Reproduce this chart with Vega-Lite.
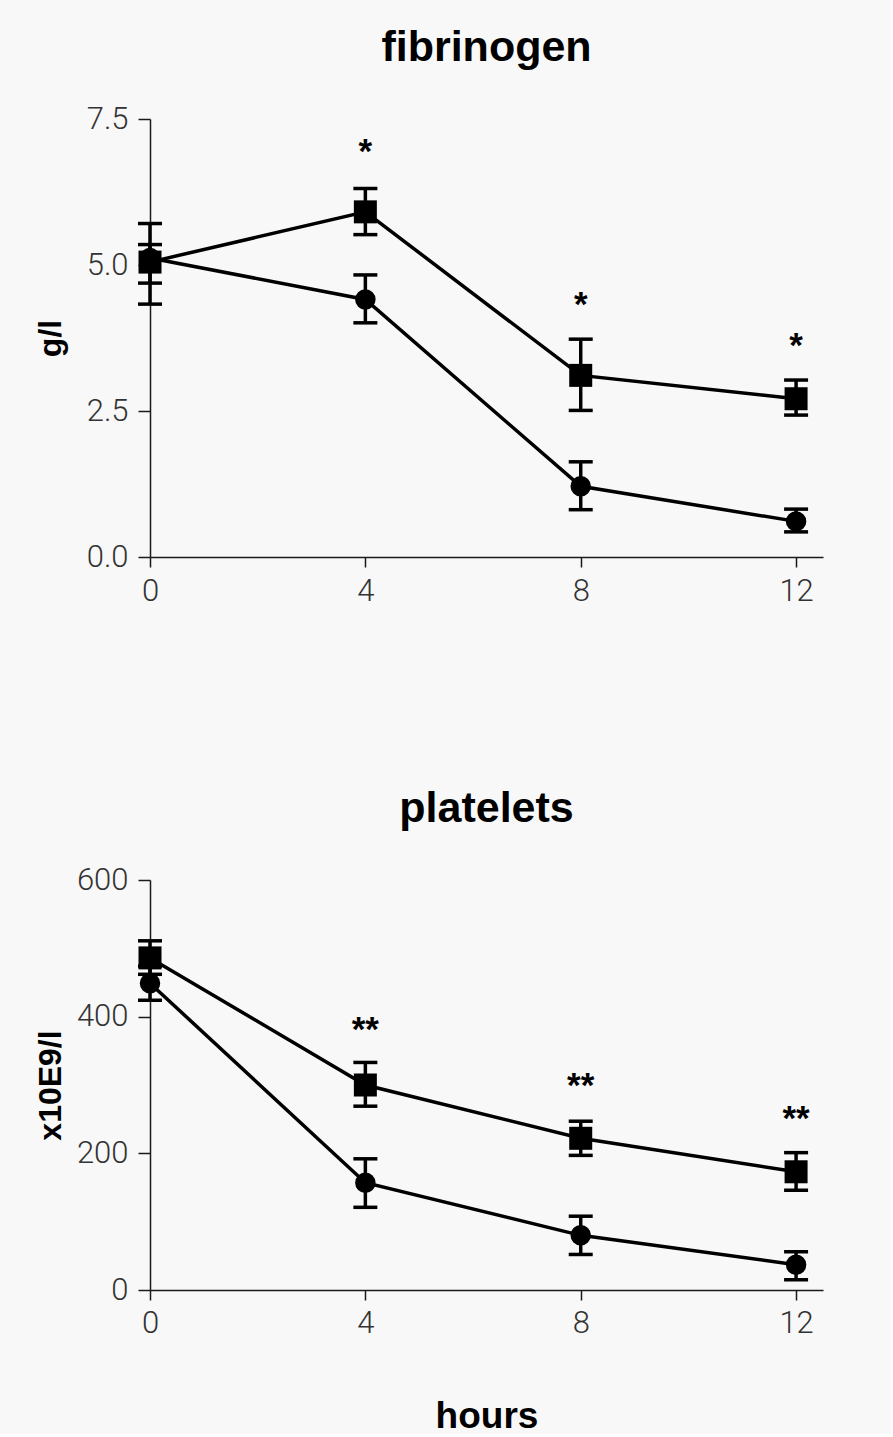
{
  "$schema": "https://vega.github.io/schema/vega-lite/v6.json",
  "background": "#f8f8f8",
  "padding": {"left": 34, "top": 27, "right": 68, "bottom": 0},
  "spacing": 182,
  "config": {
    "view": {"stroke": null},
    "axis": {
      "grid": false,
      "domainColor": "#1a1a1a",
      "domainWidth": 1.5,
      "tickColor": "#1a1a1a",
      "tickWidth": 1.5,
      "labelFont": "Roboto",
      "labelFontWeight": 300,
      "labelFontSize": 31,
      "labelColor": "#333333",
      "labelFlush": false,
      "titleFont": "Liberation Sans",
      "titleFontWeight": "bold",
      "titleColor": "#000000"
    },
    "title": {
      "font": "Liberation Sans",
      "fontWeight": "bold",
      "fontSize": 43,
      "color": "#000000",
      "frame": "group",
      "anchor": "middle",
      "baseline": "alphabetic",
      "offset": 33
    }
  },
  "datasets": {
    "fib": [
      {"group": "g1", "hours": 0, "mean": 5.05, "lo": 4.69, "hi": 5.35},
      {"group": "g1", "hours": 4, "mean": 5.91, "lo": 5.52, "hi": 6.31},
      {"group": "g1", "hours": 8, "mean": 3.11, "lo": 2.51, "hi": 3.73},
      {"group": "g1", "hours": 12, "mean": 2.71, "lo": 2.43, "hi": 3.03},
      {"group": "g2", "hours": 0, "mean": 5.12, "lo": 4.33, "hi": 5.71},
      {"group": "g2", "hours": 4, "mean": 4.41, "lo": 4.01, "hi": 4.83},
      {"group": "g2", "hours": 8, "mean": 1.21, "lo": 0.81, "hi": 1.63},
      {"group": "g2", "hours": 12, "mean": 0.61, "lo": 0.43, "hi": 0.82}
    ],
    "plt": [
      {"group": "g1", "hours": 0, "mean": 486, "lo": 462, "hi": 511},
      {"group": "g1", "hours": 4, "mean": 300, "lo": 269, "hi": 333},
      {"group": "g1", "hours": 8, "mean": 222, "lo": 197, "hi": 247},
      {"group": "g1", "hours": 12, "mean": 173, "lo": 146, "hi": 201},
      {"group": "g2", "hours": 0, "mean": 449, "lo": 424, "hi": 474},
      {"group": "g2", "hours": 4, "mean": 157, "lo": 121, "hi": 192},
      {"group": "g2", "hours": 8, "mean": 80, "lo": 52, "hi": 108},
      {"group": "g2", "hours": 12, "mean": 37, "lo": 15, "hi": 56}
    ],
    "fibstars": [
      {"hours": 4, "y": 7.03, "label": "*"},
      {"hours": 8, "y": 4.41, "label": "*"},
      {"hours": 12, "y": 3.72, "label": "*"}
    ],
    "pltstars": [
      {"hours": 4, "y": 390, "label": "**"},
      {"hours": 8, "y": 307, "label": "**"},
      {"hours": 12, "y": 259, "label": "**"}
    ]
  },
  "vconcat": [
    {
      "width": 673,
      "height": 438,
      "title": {"text": "fibrinogen"},
      "encoding": {
        "x": {"field": "hours", "type": "quantitative", "scale": {"domain": [0, 12.5], "nice": false, "zero": false},
              "axis": {"values": [0, 4, 8, 12], "title": null, "tickSize": 10, "labelPadding": 9, "format": "d"}}
      },
      "layer": [
        {
          "data": {"name": "fib"},
          "mark": {"type": "rule", "color": "#000000", "strokeWidth": 3.5},
          "encoding": {
            "y": {"field": "lo", "type": "quantitative", "scale": {"domain": [0, 7.5], "nice": false},
                  "axis": {"values": [0, 2.5, 5, 7.5], "format": ".1f", "title": "g/l", "titleFontSize": 32, "tickSize": 12, "labelPadding": 10, "minExtent": 72, "maxExtent": 72, "titlePadding": 11}},
            "y2": {"field": "hi"},
            "detail": {"field": "group"}
          }
        },
        {
          "data": {"name": "fib"},
          "mark": {"type": "tick", "orient": "horizontal", "color": "#000000", "size": 24, "thickness": 3.5, "opacity": 1},
          "encoding": {"y": {"field": "lo", "type": "quantitative"}}
        },
        {
          "data": {"name": "fib"},
          "mark": {"type": "tick", "orient": "horizontal", "color": "#000000", "size": 24, "thickness": 3.5, "opacity": 1},
          "encoding": {"y": {"field": "hi", "type": "quantitative"}}
        },
        {
          "data": {"name": "fib"},
          "mark": {"type": "line", "color": "#000000", "strokeWidth": 3.5},
          "encoding": {"y": {"field": "mean", "type": "quantitative"}, "detail": {"field": "group"}}
        },
        {
          "data": {"name": "fib"},
          "mark": {"type": "point", "filled": true, "color": "#000000", "opacity": 1},
          "encoding": {
            "y": {"field": "mean", "type": "quantitative"},
            "shape": {"field": "group", "scale": {"domain": ["g1", "g2"], "range": ["square", "circle"]}, "legend": null},
            "size": {"field": "group", "type": "nominal", "scale": {"domain": ["g1", "g2"], "range": [529, 420]}, "legend": null}
          }
        },
        {
          "data": {"name": "fibstars"},
          "mark": {"type": "text", "font": "Liberation Sans", "fontWeight": "bold", "fontSize": 35, "color": "#000000", "baseline": "middle", "dy": 6},
          "encoding": {"y": {"field": "y", "type": "quantitative"}, "text": {"field": "label"}}
        }
      ]
    },
    {
      "width": 673,
      "height": 410,
      "title": {"text": "platelets"},
      "encoding": {
        "x": {"field": "hours", "type": "quantitative", "scale": {"domain": [0, 12.5], "nice": false, "zero": false},
              "axis": {"values": [0, 4, 8, 12], "title": "hours", "titleFontSize": 37, "titlePadding": 60, "tickSize": 10, "labelPadding": 8, "format": "d"}}
      },
      "layer": [
        {
          "data": {"name": "plt"},
          "mark": {"type": "rule", "color": "#000000", "strokeWidth": 3.5},
          "encoding": {
            "y": {"field": "lo", "type": "quantitative", "scale": {"domain": [0, 600], "nice": false},
                  "axis": {"values": [0, 200, 400, 600], "format": "d", "title": "x10E9/l", "titleFontSize": 32, "tickSize": 12, "labelPadding": 10, "minExtent": 72, "maxExtent": 72, "titlePadding": 11}},
            "y2": {"field": "hi"},
            "detail": {"field": "group"}
          }
        },
        {
          "data": {"name": "plt"},
          "mark": {"type": "tick", "orient": "horizontal", "color": "#000000", "size": 24, "thickness": 3.5, "opacity": 1},
          "encoding": {"y": {"field": "lo", "type": "quantitative"}}
        },
        {
          "data": {"name": "plt"},
          "mark": {"type": "tick", "orient": "horizontal", "color": "#000000", "size": 24, "thickness": 3.5, "opacity": 1},
          "encoding": {"y": {"field": "hi", "type": "quantitative"}}
        },
        {
          "data": {"name": "plt"},
          "mark": {"type": "line", "color": "#000000", "strokeWidth": 3.5},
          "encoding": {"y": {"field": "mean", "type": "quantitative"}, "detail": {"field": "group"}}
        },
        {
          "data": {"name": "plt"},
          "mark": {"type": "point", "filled": true, "color": "#000000", "opacity": 1},
          "encoding": {
            "y": {"field": "mean", "type": "quantitative"},
            "shape": {"field": "group", "scale": {"domain": ["g1", "g2"], "range": ["square", "circle"]}, "legend": null},
            "size": {"field": "group", "type": "nominal", "scale": {"domain": ["g1", "g2"], "range": [529, 420]}, "legend": null}
          }
        },
        {
          "data": {"name": "pltstars"},
          "mark": {"type": "text", "font": "Liberation Sans", "fontWeight": "bold", "fontSize": 35, "color": "#000000", "baseline": "middle", "dy": 6},
          "encoding": {"y": {"field": "y", "type": "quantitative"}, "text": {"field": "label"}}
        }
      ]
    }
  ]
}
